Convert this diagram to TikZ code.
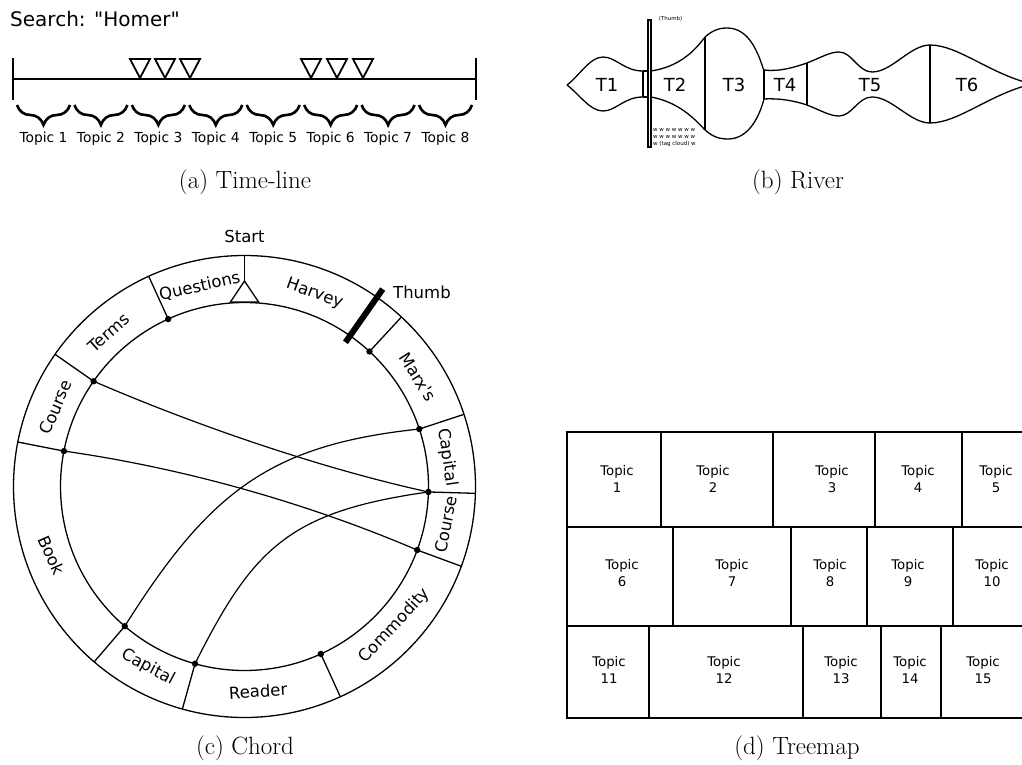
\documentclass[tikz,border=0pt]{standalone}
\usepackage{fontspec}
\setsansfont{DejaVu Sans}
\newfontfamily\rawsans{DejaVu Sans}[Ligatures=TeXOff]
\usetikzlibrary{decorations.pathreplacing}
\tikzset{
  tline/.style={line width=2pt},
  tritl/.style={line width=1.8pt, fill=white},
  brc/.style={line width=2.6pt, decorate, decoration={brace, mirror, amplitude=20pt}},
  tlab/.style={font=\sffamily\fontsize{13.8}{16}\selectfont, inner sep=0pt},
  riv/.style={line width=1.3pt},
  rlab/.style={font=\sffamily\fontsize{18}{20}\selectfont, inner sep=0pt},
  tinytxt/.style={font=\sffamily\fontsize{5.5}{7}\selectfont, inner sep=0pt, align=left},
  ring/.style={line width=1.3pt},
  chord/.style={line width=1.2pt},
  dot/.style={fill=black},
  clab/.style={font=\sffamily\fontsize{16.5}{19}\selectfont, inner sep=0pt},
  tm/.style={line width=2.6pt},
  tmlab/.style={font=\sffamily\fontsize{13.3}{17.5}\selectfont, inner sep=0pt, align=center},
  captxt/.style={font=\fontsize{25}{28}\selectfont, inner sep=0pt}
}
\begin{document}
\begin{tikzpicture}[x=1pt,y=-1pt]
\useasboundingbox (0,0) rectangle (1022,765);
\clip (0,0) rectangle (1022,765);

% ---------------- (a) Time-line ----------------
\node[anchor=base west, font=\rawsans\fontsize{20}{23}\selectfont, inner sep=0pt] (search) at (10,27) {Search: "Homer"};
\coordinate (tlA) at (13,79);
\coordinate (tlB) at (476,79);
\draw[tline] (tlA) -- (tlB);
\draw[tline] (13,58) -- (13,100);
\draw[tline] (476,58) -- (476,100);
\foreach \x in {140,165,190,311,337,363}
  \draw[tritl] (\x-10,59) -- (\x+10,59) -- (\x,78) -- cycle;
\foreach \i in {1,...,8} {
  \pgfmathsetmacro\cx{43.5+57.43*(\i-1)}
  \draw[brc] (\cx-26.5,105) -- (\cx+26.5,105);
  \node[tlab] (topic\i) at (\cx,139) {Topic \i};
}
\node[captxt] (capa) at (245,182) {(a) Time-line};

% ---------------- (b) River ----------------
% T1
\draw[riv] (567,85) .. controls (580,75) and (590,57) .. (603,57) .. controls (616,57) and (624,71) .. (643,71);
\draw[riv] (567,85) .. controls (580,95) and (590,111) .. (603,111) .. controls (616,111) and (624,97) .. (643,97);
\draw[riv] (643,71) -- (648,71);
\draw[riv] (643,97) -- (648,97);
\draw[riv] (643,71) -- (643,97);
% thumb
\draw[line width=1.2pt] (648,20) rectangle (651,147);
% T2
\draw[riv] (651,71) .. controls (678,67) and (694,52) .. (705,37);
\draw[riv] (651,97) .. controls (678,102) and (694,118) .. (705,130);
\draw[riv] (705,37) -- (705,130);
% T3
\draw[riv] (705,37) .. controls (712,31) and (718,28) .. (727,28) .. controls (746,28) and (756,46) .. (763,68) -- (764,70);
\draw[riv] (705,130) .. controls (712,136) and (718,139) .. (728,139) .. controls (748,139) and (759,118) .. (764,99);
\draw[riv] (764,70) -- (764,99);
% T4
\draw[riv] (764,70) .. controls (780,72) and (795,67) .. (807,63);
\draw[riv] (764,99) .. controls (780,98) and (795,101) .. (807,105);
\draw[riv] (807,63) -- (807,105);
% T5
\draw[riv] (807,63) .. controls (822,57) and (830,52) .. (839,52) .. controls (852,52) and (858,72) .. (872,72) .. controls (892,72) and (910,45) .. (930,45);
\draw[riv] (807,105) .. controls (822,111) and (830,116) .. (839,116) .. controls (852,116) and (858,97) .. (872,97) .. controls (892,97) and (910,123) .. (930,123);
\draw[riv] (930,45) -- (930,123);
% T6
\draw[riv] (930,45) .. controls (958,45) and (990,74) .. (1032,84);
\draw[riv] (930,123) .. controls (958,123) and (990,94) .. (1032,84);
\node[rlab] (T1) at (607,85) {T1};
\node[rlab] (T2) at (675,85) {T2};
\node[rlab] (T3) at (734,85) {T3};
\node[rlab] (T4) at (785,85) {T4};
\node[rlab] (T5) at (870,85) {T5};
\node[rlab] (T6) at (967,85) {T6};
\node[tinytxt] (thumbtxt) at (670.5,19) {(Thumb)};
\node[tinytxt, anchor=north west] (cloud) at (653,128) {w w w w w w w\\w w w w w w w\\w (tag cloud) w};
\node[captxt] (capb) at (798,182) {(b) River};

% ---------------- (c) Chord ----------------
\begin{scope}[shift={(244.5,486.5)}, y=1pt]
  \coordinate (O) at (0,0);
  \draw[ring] (O) circle[radius=231];
  \draw[ring] (O) circle[radius=184];
  \foreach \a [count=\k] in {114.5,145.1,168.9,229.4,254.4,294.5,339.8,358.3,18.2,47.2} {
    \coordinate (d\k) at (\a:184);
    \coordinate (e\k) at (\a:231);
    \draw[ring] (d\k) -- (e\k);
  }
  % start marker
  \coordinate (st0) at (90:231);
  \coordinate (st1) at (90:205.5);
  \draw[ring] (st0) -- (st1);
  \draw[ring, fill=white] (st1) -- (-14,184.6) -- (14,184.6) -- cycle;
  \node[clab] (start) at (0,250.5) {Start};
  % chords
  \draw[chord] (d2) .. controls (-50.5,61.8) and (76,18.1) .. (d8);
  \draw[chord] (d3) .. controls (-62.7,18.8) and (62.2,-16.2) .. (d7);
  \draw[chord] (d4) .. controls (-35.1,-5.3) and (25.3,41.7) .. (d9);
  \draw[chord] (d5) .. controls (8.6,-61.3) and (44.9,-25.1) .. (d8);
  \foreach \k in {1,...,10} \fill[dot] (d\k) circle[radius=3.2];
  % thumb
  \coordinate (th0) at (55:176);
  \coordinate (th1) at (55:241);
  \draw[line width=6pt] (th0) -- (th1);
  \node[clab, anchor=west] (thumb) at (148.5,194.5) {Thumb};
  % labels
  \foreach \a/\r/\t [count=\k] in {102.6/12.6/Questions, 131.5/41.5/Terms, 157.2/67.2/Course, 199.6/-66/Book, 241.9/-28/Capital, 273.8/3.8/Reader, 317.2/47.2/Commodity, 349.3/79.3/Course, 8.2/-81.8/Capital, 32.3/-57.7/Marx\textquotesingle s, 70/-20/Harvey}
    \node[clab, rotate=\r] (cl\k) at (\a:205) {\t};
\end{scope}
\node[captxt] (capc) at (245,748) {(c) Chord};

% ---------------- (d) Treemap ----------------
\draw[tm] (567,432) rectangle (1040,718);
\draw[tm] (567,527) -- (1040,527);
\draw[tm] (567,626) -- (1040,626);
\foreach \x in {661,773,875,962} \draw[tm] (\x,432) -- (\x,527);
\foreach \x in {673,791,867,953} \draw[tm] (\x,527) -- (\x,626);
\foreach \x in {649,803,881,941} \draw[tm] (\x,626) -- (\x,718);
\foreach \x/\n in {617/1,713/2,832/3,918/4,996/5}
  \node[tmlab] (tm\n) at (\x,479) {Topic\\\n};
\foreach \x/\n in {622/6,732/7,830/8,908/9,992/10}
  \node[tmlab] (tm\n) at (\x,573) {Topic\\\n};
\foreach \x/\n in {609/11,724/12,841/13,910/14,983/15}
  \node[tmlab] (tm\n) at (\x,670) {Topic\\\n};
\node[captxt] (capd) at (797,748) {(d) Treemap};
\end{tikzpicture}
\end{document}
